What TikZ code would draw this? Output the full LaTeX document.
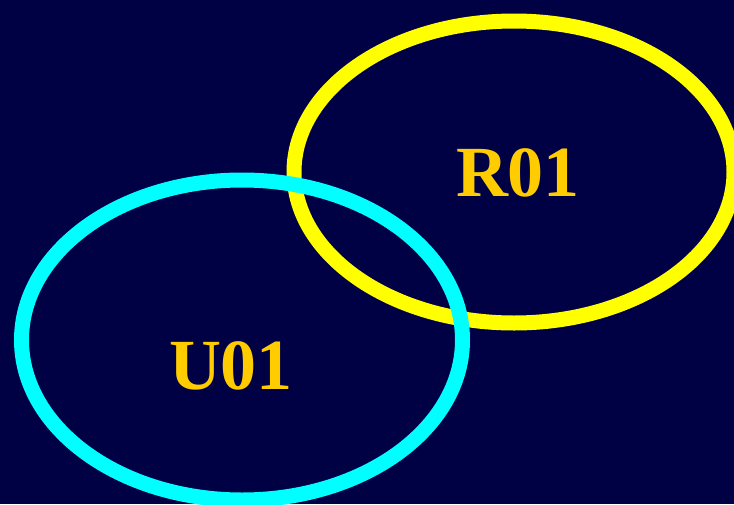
\documentclass[tikz,border=0pt]{standalone}
\usepackage{fontspec}
\setmainfont{Liberation Serif}
\usepackage{xcolor}
\usepackage{tikz}
\usetikzlibrary{shapes.geometric}
\definecolor{vennNavy}{HTML}{000044}
\definecolor{vennYellow}{HTML}{FFFF00}
\definecolor{vennCyan}{HTML}{00FFFF}
\definecolor{vennGold}{HTML}{FFCC00}
\tikzset{
  ring/.style={
    ellipse,
    draw=#1,
    line width=15pt,
    inner sep=0pt
  },
  setlabel/.style={
    text=vennGold,
    inner sep=0pt,
    font=\fontsize{72}{72}\selectfont\bfseries
  }
}

\begin{document}
\begin{tikzpicture}[x=1pt,y=-1pt]
  \fill[vennNavy] (0,0) rectangle (734,504);
  \useasboundingbox (0,0) rectangle (734,504);
  \node[ring=vennYellow,minimum width=440pt,minimum height=302pt] (rset) at (514,172) {};
  \node[ring=vennCyan,minimum width=441pt,minimum height=320pt] (uset) at (242,340) {};
  \node[setlabel] (rlabel) at (518,173) {R01};
  \node[setlabel] (ulabel) at (231,366) {U01};
\end{tikzpicture}
\end{document}
